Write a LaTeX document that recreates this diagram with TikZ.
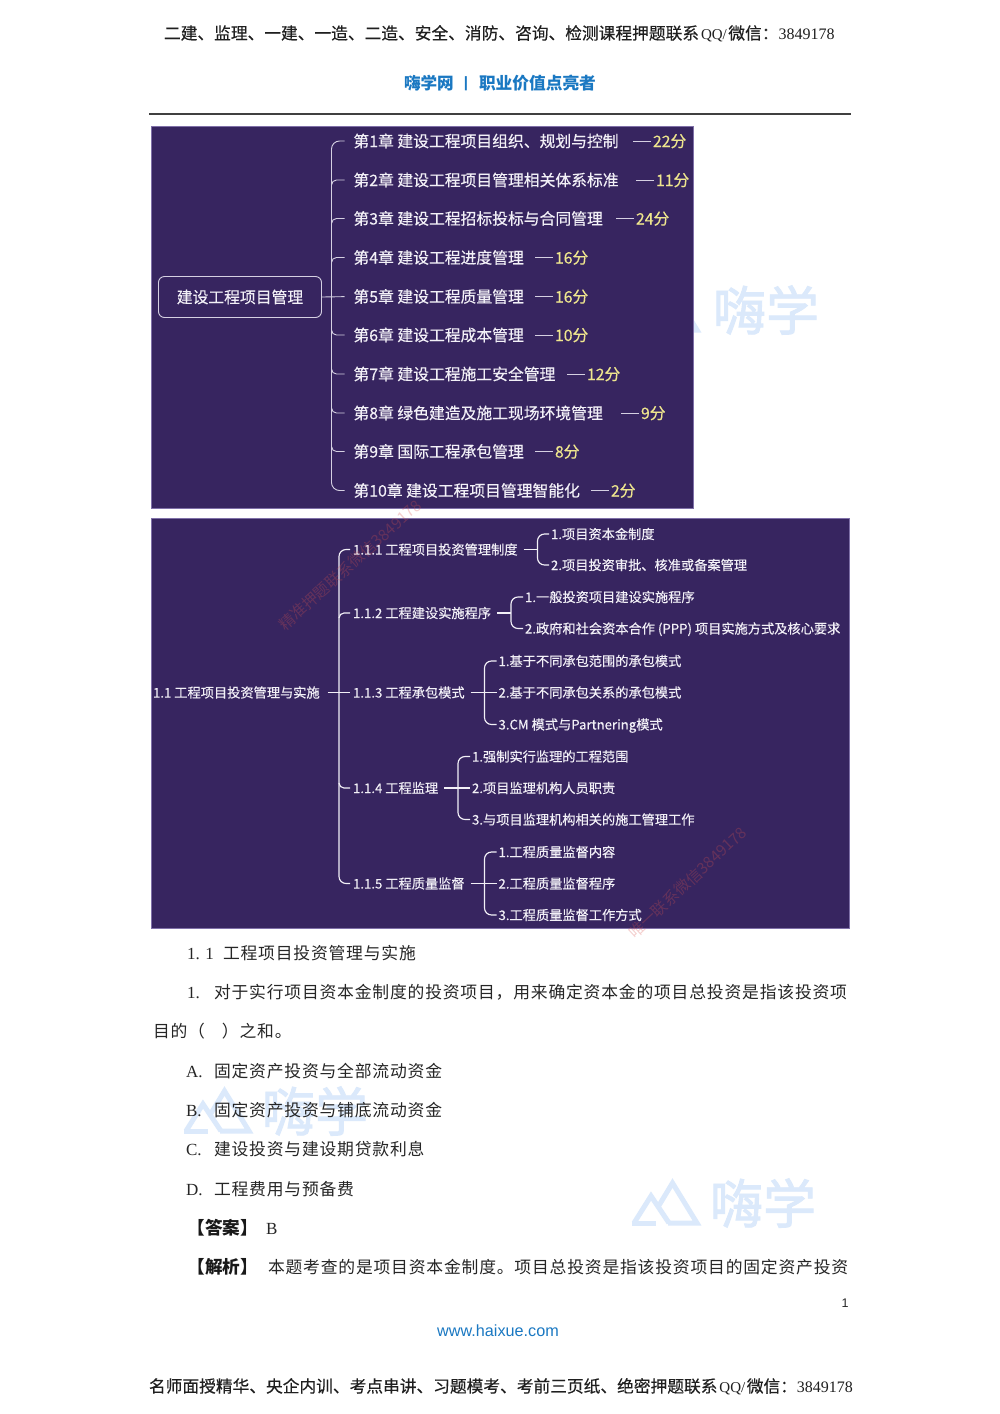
\documentclass[tikz,border=0pt]{standalone}
\usepackage{fontspec}
\usetikzlibrary{calc}
\setmainfont{Noto Sans CJK SC}
\newfontfamily\cjkbody[LetterSpace=4.8]{Noto Sans CJK SC}
\newfontfamily\cjkmed[FakeBold=0.35]{Noto Sans CJK SC}
\newfontfamily\cjkwm[FakeBold=1.6]{Noto Sans CJK SC}
\newfontfamily\serifl{Liberation Serif}
\newfontfamily\sansf{Liberation Sans}
\newcommand{\fs}[1]{\fontsize{#1}{#1}\selectfont}
\definecolor{panelc}{HTML}{372560}
\definecolor{panelb}{HTML}{7F70A8}
\definecolor{lnkc}{HTML}{D5D0E2}
\definecolor{txtw}{HTML}{F2F0F7}
\definecolor{scorec}{HTML}{EFE68E}
\definecolor{bluet}{HTML}{1A78C2}
\definecolor{wmblue}{HTML}{DBE9FB}
\definecolor{wmred}{HTML}{D9534F}
\tikzset{
  lft/.style={anchor=west,inner sep=0pt,outer sep=0pt,execute at begin node={\rule[-0.24em]{0pt}{1.24em}}},
  ctr/.style={anchor=center,inner sep=0pt,outer sep=0pt},
  panel/.style={fill=panelc,draw=panelb,line width=0.4pt},
  chap/.style={lft,text=txtw,font=\cjkmed\fs{15.8}},
  score/.style={lft,text=scorec,font=\cjkmed\fs{15.8}},
  itm/.style={lft,text=txtw,font=\cjkmed\fs{13.22}},
  lnk/.style={draw=lnkc,line width=0.9pt},
  lnkb/.style={draw=txtw,line width=1.15pt},
  bodyt/.style={lft,text=black!85,font=\cjkbody\fs{16.8}},
  headt/.style={lft,text=black!88,font=\cjkmed\fs{16.72}},
  wmtext/.style={ctr,text=wmblue,font=\cjkwm\fs{53}},
  wmlogo/.style={draw=wmblue,line width=5pt,line join=miter,line cap=butt},
  wmdiag/.style={ctr,text=wmred,opacity=0.28,font=\fs{15.6}},
}
\newcommand{\qqtail}{\hspace{2pt}{\serifl\fs{15}QQ/}\hspace{1.5pt}微信：{\serifl\fs{16}3849178}}
\newcommand{\logomark}[2]{%
  \begin{scope}[shift={(#1,#2)}]
    \draw[wmlogo] (14,53) -- (31,26) -- (49,53);
    \draw[wmlogo] (12,53) -- (36,53);
    \draw[wmlogo] (38,37) -- (52.5,13) -- (77,53) -- (48,53);
  \end{scope}}
\begin{document}
\begin{tikzpicture}[x=1pt,y=-1pt]
\useasboundingbox (0,0) rectangle (1000,1414);
\fill[white] (0,0) rectangle (1000,1414);

% light-blue watermarks
\logomark{620}{1170}
\node[wmtext] (wm3) at (763,1203) {嗨学};
\logomark{172}{1078}
\node[wmtext] (wm2) at (315,1111) {嗨学};
\logomark{620}{277}
\node[wmtext] (wm1) at (766,310) {嗨学};

% header
\node[headt] (h1) at (164,33) {二建、监理、一建、一造、二造、安全、消防、咨询、检测课程押题联系\qqtail};
\node[lft,text=bluet,font=\bfseries\fs{16.6}] (h2) at (404,83) {嗨学网};
\node[ctr,text=bluet,font=\sansf\bfseries\fs{15}] (h3) at (466,84) {|};
\node[lft,text=bluet,font=\bfseries\fs{16.7}] (h4) at (479,83) {职业价值点亮者};
\draw[black!75,line width=1.5pt] (149,114) -- (851,114);

% panel 1
\fill[panelc] (151,126) rectangle (693.5,508.5);
\draw[panelb,line width=0.4pt] (151,126) rectangle (693.5,508.5);
\node[draw=lnkc,line width=0.9pt,rounded corners=6pt,minimum width=163pt,minimum height=41pt,inner sep=0pt,text=txtw,font=\cjkmed\fs{15.8}] (root1) at (240,297) {建设工程项目管理};
\foreach \i/\y/\t/\sx/\s in {
  1/141/第1章 建设工程项目组织、规划与控制/653/22分,
  2/180/第2章 建设工程项目管理相关体系标准/656/11分,
  3/218.5/第3章 建设工程招标投标与合同管理/636/24分,
  4/257.5/第4章 建设工程进度管理/555/16分,
  5/296.5/第5章 建设工程质量管理/555/16分,
  6/335/第6章 建设工程成本管理/555/10分,
  7/374/第7章 建设工程施工安全管理/587/12分,
  8/413/第8章 绿色建造及施工现场环境管理/641/9分,
  9/451.5/第9章 国际工程承包管理/555/8分,
  10/490.5/第10章 建设工程项目管理智能化/611/2分}{
  \node[chap] (c\i) at (353.5,\y) {\t};
  \node[score] (s\i) at (\sx,\y) {\s};
  \draw[lnk] (s\i.west) ++(-2,0) -- ++(-18,0);
}
\coordinate (trunk1) at (331.5,296.5);
\draw[lnk,rounded corners=8pt] ($(c1.west)+(-9,0)$) -| (trunk1) |- ($(c10.west)+(-9,0)$);
\draw[lnk,shorten >=9pt] (root1.east) -- (c5.west);
\foreach \i in {2,3,4}{\draw[lnk,rounded corners=5pt] ($(c\i.west)+(-9,0)$) -| ++(-13,6);}
\foreach \i in {6,7,8,9}{\draw[lnk,rounded corners=5pt] ($(c\i.west)+(-9,0)$) -| ++(-13,-6);}

% panel 2
\fill[panelc] (151,518) rectangle (849,928.5);
\draw[panelb,line width=0.5pt] (151,518) rectangle (849,928.5);
\node[itm] (r2) at (153,692.5) {1.1 工程项目投资管理与实施};
\node[itm] (a1) at (353,549.5) {1.1.1 工程项目投资管理制度};
\node[itm] (a2) at (353,613) {1.1.2 工程建设实施程序};
\node[itm] (a3) at (353,692.5) {1.1.3 工程承包模式};
\node[itm] (a4) at (353,788) {1.1.4 工程监理};
\node[itm] (a5) at (353,883.5) {1.1.5 工程质量监督};
\node[itm] (b11) at (551,534) {1.项目资本金制度};
\node[itm] (b12) at (551,565) {2.项目投资审批、核准或备案管理};
\node[itm] (b21) at (525,597) {1.一般投资项目建设实施程序};
\node[itm] (b22) at (525,628.5) {2.政府和社会资本合作 (PPP) 项目实施方式及核心要求};
\node[itm] (b31) at (498.5,661) {1.基于不同承包范围的承包模式};
\node[itm] (b32) at (498.5,692.5) {2.基于不同承包关系的承包模式};
\node[itm] (b33) at (498.5,724.5) {3.CM 模式与Partnering模式};
\node[itm] (b41) at (472,756.5) {1.强制实行监理的工程范围};
\node[itm] (b42) at (472,788) {2.项目监理机构人员职责};
\node[itm] (b43) at (472,819.5) {3.与项目监理机构相关的施工管理工作};
\node[itm] (b51) at (498.5,852) {1.工程质量监督内容};
\node[itm] (b52) at (498.5,883.5) {2.工程质量监督程序};
\node[itm] (b53) at (498.5,915) {3.工程质量监督工作方式};
\coordinate (trunk2) at (339,692.5);
\draw[lnkb,rounded corners=7pt] ($(a1.west)+(-3,0)$) -| (trunk2) |- ($(a5.west)+(-3,0)$);
\draw[lnkb,shorten <=8pt,shorten >=3pt] (r2.east) -- (a3.west);
\draw[lnkb,rounded corners=5pt] ($(a2.west)+(-3,0)$) -| ++(-11,5);
\draw[lnkb,rounded corners=5pt] ($(a4.west)+(-3,0)$) -| ++(-11,-5);
\coordinate (v1) at (537.5,549.5);
\coordinate (v2) at (511,613);
\coordinate (v3) at (484.5,692.5);
\coordinate (v4) at (458,788);
\coordinate (v5) at (484.5,883.5);
\draw[lnkb,rounded corners=7pt] ($(b11.west)+(-2,0)$) -| (v1) |- ($(b12.west)+(-2,0)$);
\draw[lnkb,rounded corners=7pt] ($(b21.west)+(-2,0)$) -| (v2) |- ($(b22.west)+(-2,0)$);
\draw[lnkb,rounded corners=7pt] ($(b31.west)+(-2,0)$) -| (v3) |- ($(b33.west)+(-2,0)$);
\draw[lnkb,rounded corners=7pt] ($(b41.west)+(-2,0)$) -| (v4) |- ($(b43.west)+(-2,0)$);
\draw[lnkb,rounded corners=7pt] ($(b51.west)+(-2,0)$) -| (v5) |- ($(b53.west)+(-2,0)$);
\draw[lnkb,shorten <=6pt] (a1.east) -- (v1);
\draw[lnkb,shorten <=6pt] (a2.east) -- (v2);
\draw[lnkb,shorten <=6pt,shorten >=2pt] (a3.east) -- (b32.west);
\draw[lnkb,shorten <=6pt,shorten >=2pt] (a4.east) -- (b42.west);
\draw[lnkb,shorten <=6pt,shorten >=2pt] (a5.east) -- (b52.west);

% diagonal watermarks
\node[wmdiag,rotate=42] (wd1) at (350,565) {精准押题联系微信3849178};
\node[wmdiag,rotate=43] (wd2) at (687.5,882.5) {唯一联系微信3849178};

% body text
\node[bodyt] (t1a) at (187,953) {{\serifl\fs{17}1. 1}};
\node[bodyt] (t1b) at (223,953) {工程项目投资管理与实施};
\node[bodyt] (t2a) at (187,992) {{\serifl\fs{17}1.}};
\node[bodyt] (t2b) at (214,992) {对于实行项目资本金制度的投资项目，用来确定资本金的项目总投资是指该投资项};
\node[bodyt] (t3) at (153,1031.5) {目的（\hspace{17pt}）之和。};
\node[bodyt] (oa) at (186,1071) {{\serifl\fs{17}A.}};
\node[bodyt] (oat) at (214,1071) {固定资产投资与全部流动资金};
\node[bodyt] (ob) at (186,1110) {{\serifl\fs{17}B.}};
\node[bodyt] (obt) at (214,1110) {固定资产投资与铺底流动资金};
\node[bodyt] (oc) at (186,1149) {{\serifl\fs{17}C.}};
\node[bodyt] (oct) at (214,1149) {建设投资与建设期贷款利息};
\node[bodyt] (od) at (186,1189) {{\serifl\fs{17}D.}};
\node[bodyt] (odt) at (214,1189) {工程费用与预备费};
\node[lft,text=black!90,font=\bfseries\fs{17.6}] (ans) at (187.5,1228) {【答案】};
\node[bodyt] (ansv) at (266,1228) {{\serifl\fs{17}B}};
\node[lft,text=black!90,font=\bfseries\fs{17.6}] (exp) at (187.5,1267) {【解析】};
\node[bodyt] (expv) at (268,1267) {本题考查的是项目资本金制度。项目总投资是指该投资项目的固定资产投资};

% footer
\node[ctr,text=black!85,font=\sansf\fs{12.5}] (pn) at (845,1303) {1};
\node[ctr,text=bluet,font=\sansf\fs{16.2}] (web) at (498,1331) {www.haixue.com};
\node[headt] (ft) at (149,1386) {名师面授精华、央企内训、考点串讲、习题模考、考前三页纸、绝密押题联系\qqtail};
\end{tikzpicture}
\end{document}
